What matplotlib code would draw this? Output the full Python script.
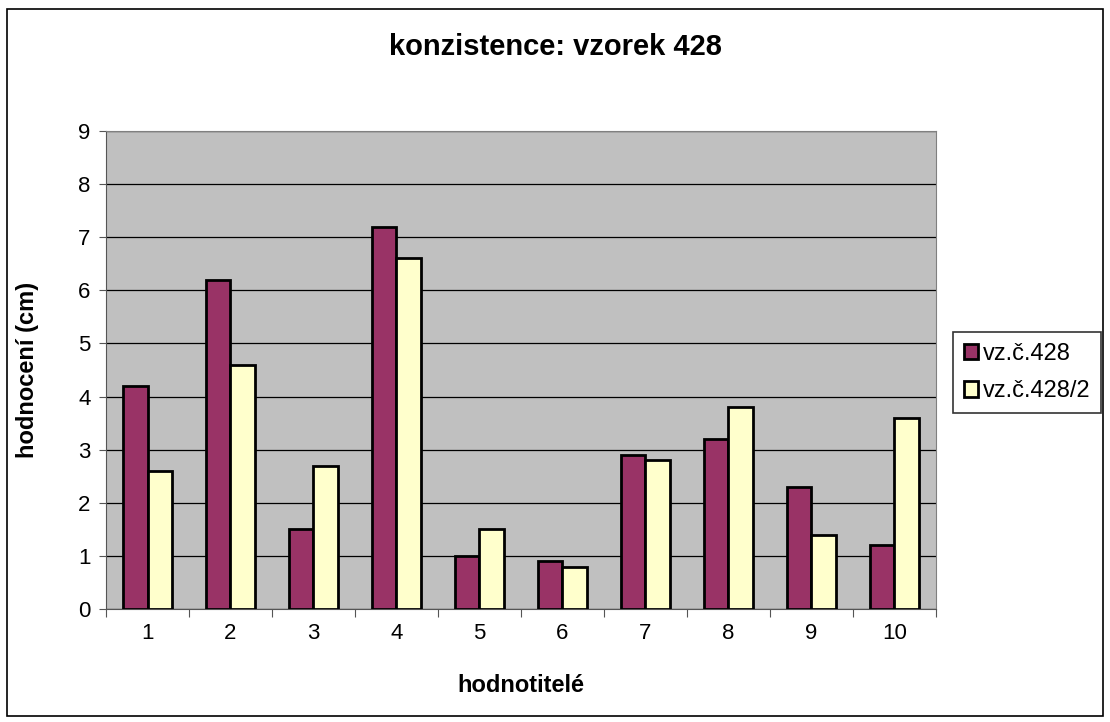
import numpy as np
import matplotlib.pyplot as plt
from matplotlib.patches import Rectangle

# data
raters = ['1', '2', '3', '4', '5', '6', '7', '8', '9', '10']
vz428 = [4.2, 6.2, 1.5, 7.2, 1.0, 0.9, 2.9, 3.2, 2.3, 1.2]
vz428_2 = [2.6, 4.6, 2.7, 6.6, 1.5, 0.8, 2.8, 3.8, 1.4, 3.6]

plt.rcParams['font.family'] = ['Liberation Sans', 'DejaVu Sans']

fig = plt.figure(figsize=(11.1, 7.22), dpi=100)
ax = fig.add_axes([0.0955, 0.1565, 0.7477, 0.6621])
ax.set_facecolor('#C0C0C0')

x = np.arange(1, len(raters) + 1)
w = 0.29
ax.bar(x - w / 2, vz428, w, color='#993366', edgecolor='black', linewidth=2, label='vz.č.428', zorder=3)
ax.bar(x + w / 2, vz428_2, w, color='#FFFFCC', edgecolor='black', linewidth=2, label='vz.č.428/2', zorder=3)

ax.set_xlim(0.5, len(raters) + 0.5)
ax.set_ylim(0, 9)
ax.set_yticks(range(0, 10))
ax.yaxis.grid(True, color='black', linewidth=0.9, zorder=1)

# ticks between categories, labels at centres
ax.set_xticks(np.arange(0.5, len(raters) + 1, 1))
ax.set_xticklabels([])
ax.set_xticks(x, minor=True)
ax.set_xticklabels(raters, minor=True)
ax.tick_params(axis='x', which='major', length=6, color='#555555', direction='out')
ax.tick_params(axis='x', which='minor', length=0, pad=10, labelsize=16)
ax.tick_params(axis='y', length=5, color='#555555', labelsize=16, pad=6)

for s in ['top', 'right']:
    ax.spines[s].set_color('#808080')
ax.spines['left'].set_color('#555555')
ax.spines['bottom'].set_color('#555555')

fig.text(0.5, 0.935, 'konzistence: vzorek 428', fontsize=21, fontweight='bold',
         ha='center', va='center')
ax.set_xlabel('hodnotitelé', fontsize=17, fontweight='bold', labelpad=22)
ax.set_ylabel('hodnocení (cm)', fontsize=17, fontweight='bold', labelpad=28)

leg = ax.legend(loc='center left', bbox_to_anchor=(1.0205, 0.495), fontsize=17, frameon=True,
                fancybox=False, edgecolor='black', handlelength=0.6, handleheight=0.65,
                handletextpad=0.2, borderpad=0.45, labelspacing=0.65, borderaxespad=0)
leg.get_frame().set_linewidth(1.2)

fig.patches.append(Rectangle((0.006, 0.008), 0.988, 0.979, transform=fig.transFigure,
                             fill=False, edgecolor='black', linewidth=1.2))

fig.savefig('out.png', dpi=100)
